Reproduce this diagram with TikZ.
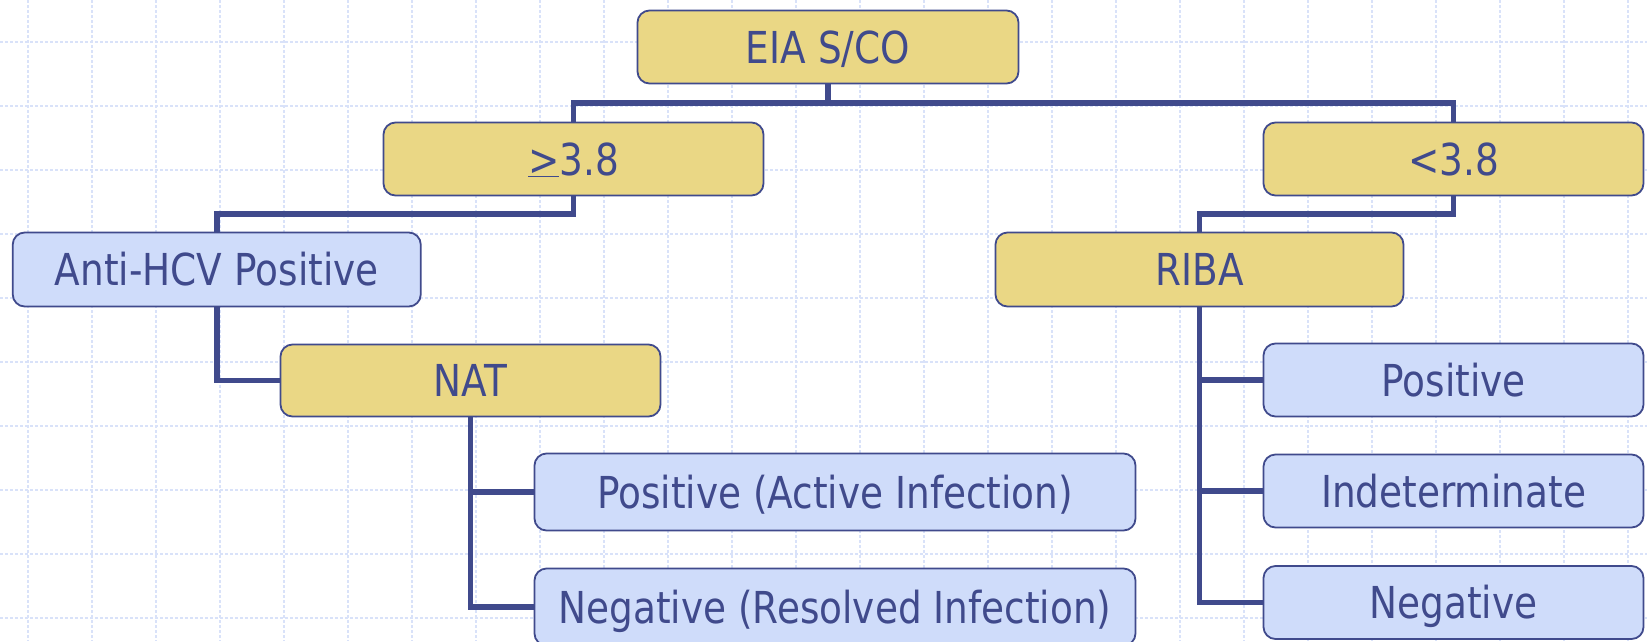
\documentclass[tikz,border=0pt]{standalone}
\usepackage{fontspec}
\setmainfont{DejaVu Sans}[FakeStretch=0.85]
\usetikzlibrary{backgrounds}
\definecolor{navy}{HTML}{404A8C}
\definecolor{gold}{HTML}{EAD785}
\definecolor{pale}{HTML}{CFDCFA}
\definecolor{gridc}{HTML}{D9E2F9}
\begin{document}
\begin{tikzpicture}[x=1pt,y=-1pt,
  box/.style={draw=navy, line width=1.8pt, rounded corners=12pt, text=navy,
    font=\fontsize{44}{50}\selectfont, inner sep=0pt, text height=32pt, text depth=0pt},
  goldbox/.style={box, fill=gold},
  bluebox/.style={box, fill=pale},
  conn/.style={draw=navy, line width=5.5pt},
  gridline/.style={draw=gridc, line width=1.1pt, dash pattern=on 3pt off 2pt}]
\useasboundingbox (0,0) rectangle (1647,641);
\begin{pgfonlayer}{background}
  \fill[white] (0,0) rectangle (1647,641);
  \foreach \x in {28,92,...,1628} \draw[gridline] (\x,0) -- (\x,641);
  \foreach \y in {42,106,...,618} \draw[gridline] (0,\y) -- (1647,\y);
\end{pgfonlayer}
% nodes
\node[goldbox, minimum width=381pt, minimum height=73pt] (eia) at (828,47) {EIA S/CO};
\node[goldbox, minimum width=380pt, minimum height=73pt] (ge) at (573.5,159) {\underline{>}3.8};
\node[goldbox, minimum width=380pt, minimum height=73pt] (lt) at (1453.5,159) {<3.8};
\node[bluebox, minimum width=408pt, minimum height=74pt] (anti) at (216.75,269.5) {Anti-HCV Positive};
\node[goldbox, minimum width=408pt, minimum height=74pt] (riba) at (1199.5,269.5) {RIBA};
\node[goldbox, minimum width=380pt, minimum height=72pt] (nat) at (470.5,380.5) {NAT};
\node[bluebox, minimum width=601pt, minimum height=77pt] (pa) at (835,492) {Positive (Active Infection)};
\node[bluebox, minimum width=601pt, minimum height=77pt] (nr) at (835,607) {Negative (Resolved Infection)};
\node[bluebox, minimum width=380pt, minimum height=73pt] (rp) at (1453.5,380) {Positive};
\node[bluebox, minimum width=380pt, minimum height=73pt] (ri) at (1453.5,491) {Indeterminate};
\node[bluebox, minimum width=380pt, minimum height=73pt] (rn) at (1453.5,602.5) {Negative};
% connectors
\begin{pgfonlayer}{background}
  \coordinate (busY) at (0,103);
  \coordinate (midY) at (0,214);
  \draw[conn] (eia.south) -- (eia.south |- busY);
  \draw[conn] (ge.north) |- (lt.north |- busY) -- (lt.north);
  \draw[conn] (ge.south) |- (anti.north |- midY) -- (anti.north);
  \draw[conn] (lt.south) |- (riba.north |- midY) -- (riba.north);
  \draw[conn] (anti.south) |- (nat.west);
  \draw[conn] (nat.south) |- (pa.west);
  \draw[conn] (nat.south) |- (nr.west);
  \draw[conn] (riba.south) |- (rp.west);
  \draw[conn] (riba.south) |- (ri.west);
  \draw[conn] (riba.south) |- (rn.west);
\end{pgfonlayer}
\end{tikzpicture}
\end{document}
